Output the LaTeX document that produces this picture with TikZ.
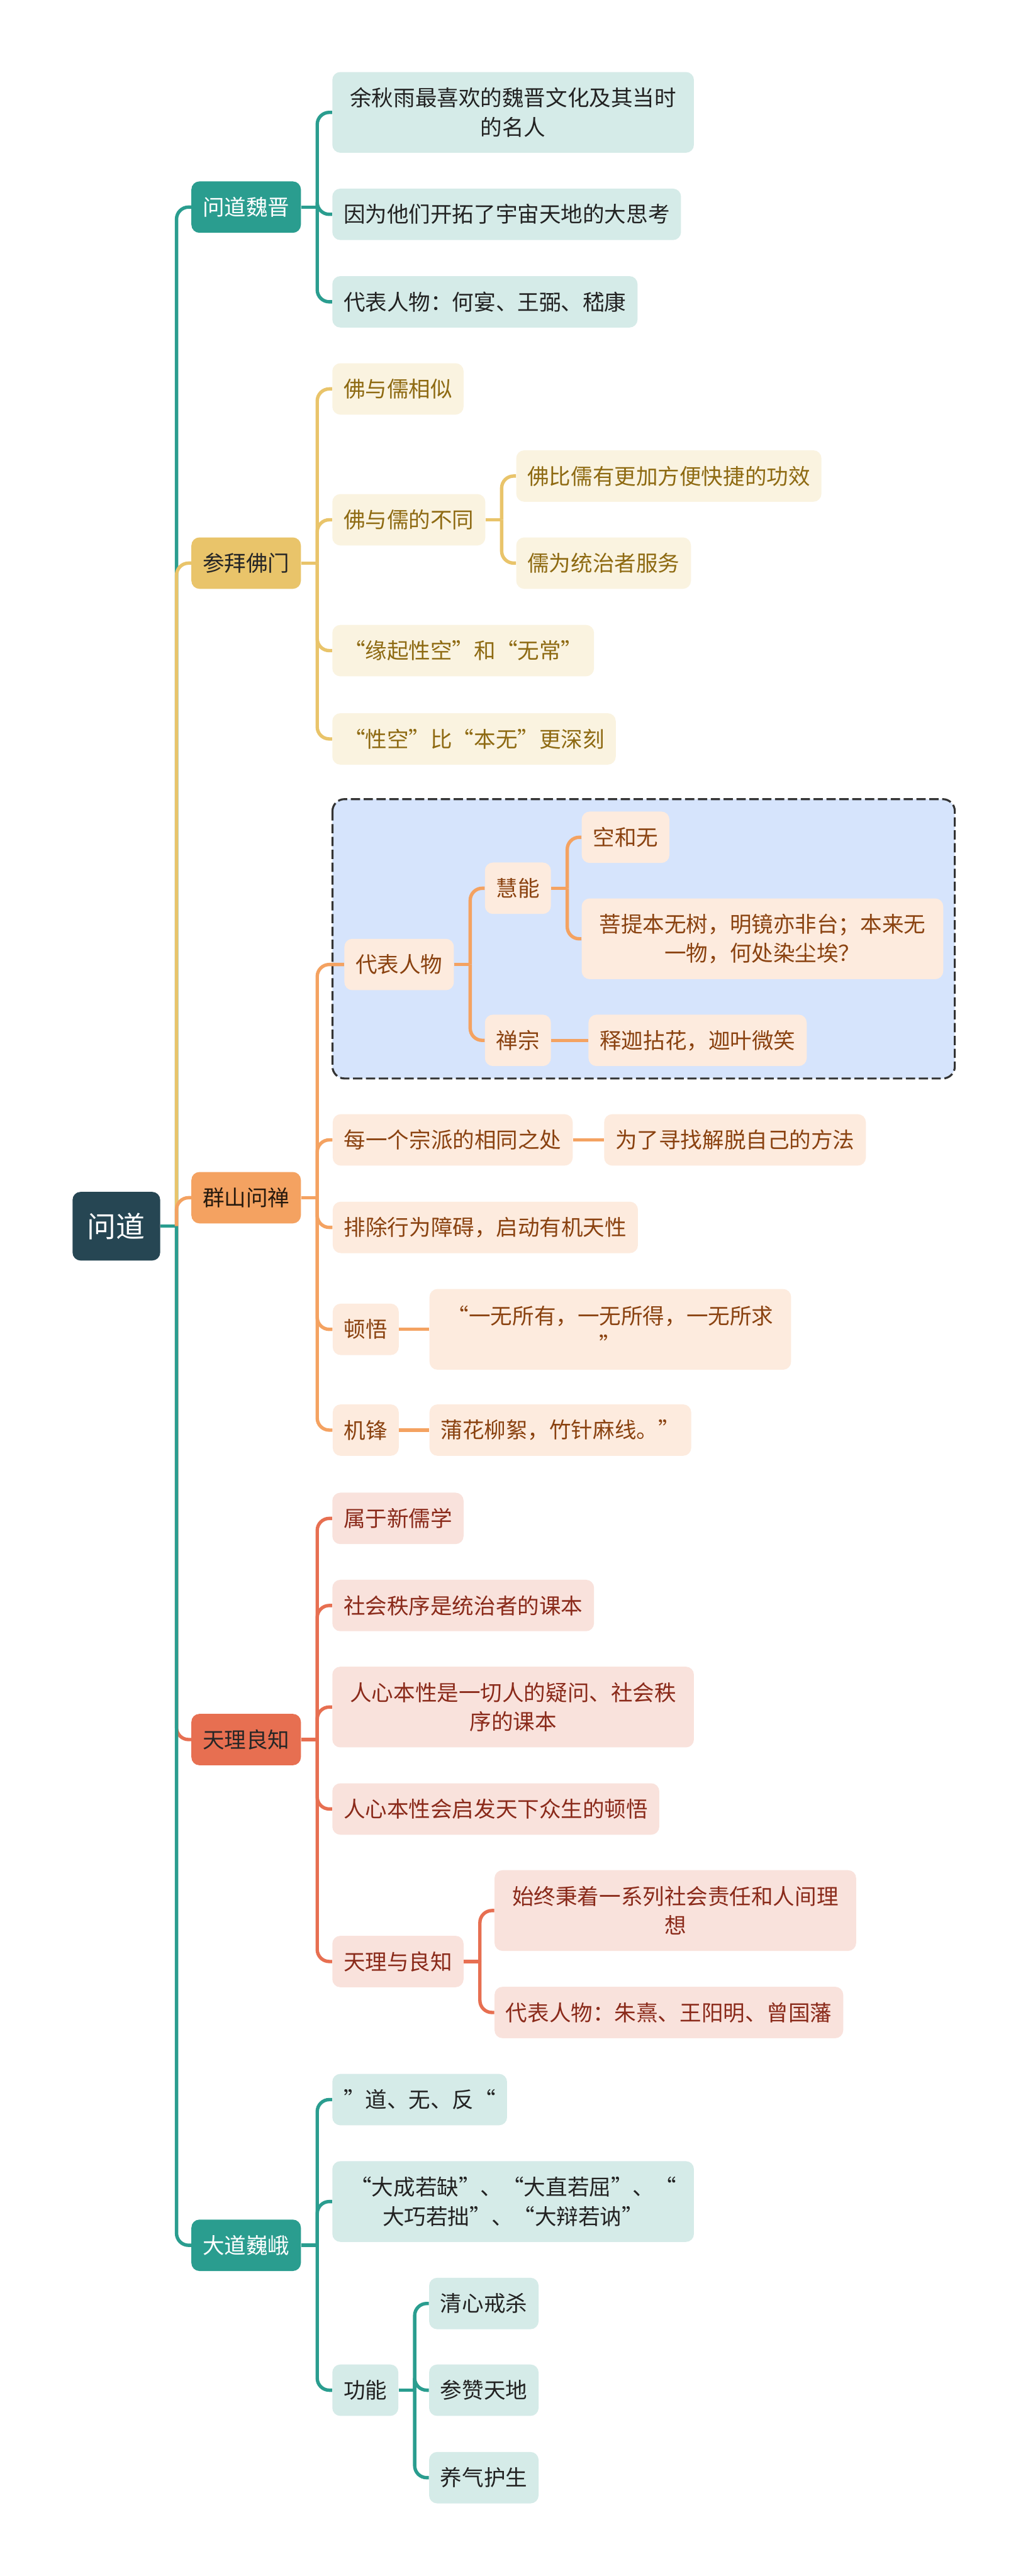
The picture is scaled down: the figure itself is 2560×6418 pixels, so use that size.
\documentclass[tikz,border=0pt]{standalone}
\usepackage{fontspec}
\setmainfont{Noto Sans CJK SC}
\usetikzlibrary{calc}
\definecolor{cteal}{HTML}{2A9D8F}
\definecolor{croot}{HTML}{264653}
\definecolor{cyel}{HTML}{E9C46A}
\definecolor{cora}{HTML}{F4A261}
\definecolor{cred}{HTML}{E76F51}
\definecolor{tealL}{HTML}{D5EBE8}
\definecolor{yelL}{HTML}{FAF3E0}
\definecolor{oraL}{HTML}{FDEBDE}
\definecolor{redL}{HTML}{F9E2DC}
\definecolor{frameL}{HTML}{D6E4FC}
\definecolor{yelT}{HTML}{8E6A12}
\definecolor{oraT}{HTML}{8A4210}
\definecolor{redT}{HTML}{8A2A1A}
\definecolor{darkT}{HTML}{222222}
\tikzset{
  box/.style={rounded corners=0.2cm,inner xsep=0.28cm,inner ysep=0pt,minimum height=1.28cm,
    align=center,anchor=west,font=\fontsize{15.4pt}{20.8pt}\selectfont},
  two/.style={minimum height=2.01cm,minimum width=9cm},
  rootbox/.style={box,fill=croot,text=white,minimum height=1.71cm,inner xsep=0.37cm,
    font=\fontsize{20.5pt}{24pt}\selectfont},
  tealkid/.style={box,fill=tealL,text=darkT},
  yelkid/.style={box,fill=yelL,text=yelT},
  orakid/.style={box,fill=oraL,text=oraT},
  redkid/.style={box,fill=redL,text=redT},
  link/.style={line width=2.4pt,rounded corners=0.3cm},
}
\begin{document}
\begin{tikzpicture}[x=0.01cm,y=-0.01cm]
\fill[white] (0,0) rectangle (2560,6418);
\useasboundingbox (0,0) rectangle (2560,6418);
\draw[line width=1.4pt,dash pattern=on 0.23cm off 0.09cm,draw=black!80,fill=frameL,rounded corners=0.3cm]
  (828,1991) rectangle (2378,2687);

\node[rootbox] (root) at (180,3055) {问道};
\node[box,fill=cteal,text=white] (q1) at (476,516) {问道魏晋};
\node[box,fill=cyel,text=black!85] (q2) at (476,1403) {参拜佛门};
\node[box,fill=cora,text=black!80!brown] (q3) at (476,2984) {群山问禅};
\node[box,fill=cred,text=black!85] (q4) at (476,4334) {天理良知};
\node[box,fill=cteal,text=white] (q5) at (476,5594) {大道巍峨};

\node[tealkid,two] (a1) at (827,280) {余秋雨最喜欢的魏晋文化及其当时\\的名人};
\node[tealkid] (a2) at (827,534) {因为他们开拓了宇宙天地的大思考};
\node[tealkid] (a3) at (827,752) {代表人物：何宴、王弼、嵇康};

\node[yelkid] (b1) at (827,969) {佛与儒相似};
\node[yelkid] (b2) at (827,1295) {佛与儒的不同};
\node[yelkid] (b21) at (1285,1186) {佛比儒有更加方便快捷的功效};
\node[yelkid] (b22) at (1285,1403) {儒为统治者服务};
\node[yelkid] (b3) at (827,1621) {“缘起性空”和“无常”};
\node[yelkid] (b4) at (827,1841) {“性空”比“本无”更深刻};

\node[orakid] (c1) at (857,2403) {代表人物};
\node[orakid] (c11) at (1207,2213) {慧能};
\node[orakid] (c111) at (1448,2086) {空和无};
\node[orakid,two] (c112) at (1448,2339) {菩提本无树，明镜亦非台；本来无\\一物，何处染尘埃？};
\node[orakid] (c12) at (1207,2592) {禅宗};
\node[orakid] (c121) at (1465,2592) {释迦拈花，迦叶微笑};
\node[orakid] (c2) at (828,2840) {每一个宗派的相同之处};
\node[orakid] (c21) at (1504,2840) {为了寻找解脱自己的方法};
\node[orakid] (c3) at (828,3058) {排除行为障碍，启动有机天性};
\node[orakid] (c4) at (828,3312) {顿悟};
\node[orakid,two] (c41) at (1069,3312) {“一无所有，一无所得，一无所求\\”};
\node[orakid] (c5) at (828,3563) {机锋};
\node[orakid] (c51) at (1069,3563) {蒲花柳絮，竹针麻线。”};

\node[redkid] (d1) at (827,3783) {属于新儒学};
\node[redkid] (d2) at (827,4000) {社会秩序是统治者的课本};
\node[redkid,two] (d3) at (827,4253) {人心本性是一切人的疑问、社会秩\\序的课本};
\node[redkid] (d4) at (827,4507) {人心本性会启发天下众生的顿悟};
\node[redkid] (d5) at (827,4887) {天理与良知};
\node[redkid,two] (d51) at (1231,4760) {始终秉着一系列社会责任和人间理\\想};
\node[redkid] (d52) at (1231,5014) {代表人物：朱熹、王阳明、曾国藩};

\node[tealkid] (e1) at (827,5231) {”道、无、反“};
\node[tealkid,two] (e2) at (827,5485) {“大成若缺”、“大直若屈”、“\\大巧若拙”、“大辩若讷”};
\node[tealkid] (e3) at (827,5955) {功能};
\node[tealkid] (e31) at (1068,5739) {清心戒杀};
\node[tealkid] (e32) at (1068,5955) {参赞天地};
\node[tealkid] (e33) at (1068,6173) {养气护生};

\coordinate (rb) at ($(root.east)+(40,0)$);
\draw[link,cteal] (root.east) -- (rb);
\foreach \q/\c in {q1/cteal,q2/cyel,q3/cora,q4/cred,q5/cteal}
  \draw[link,\c] (rb) |- (\q.west);

\foreach \p/\c/\kids in {q1/cteal/{a1,a2,a3},q2/cyel/{b1,b2,b3,b4},b2/cyel/{b21,b22},
    q3/cora/{c1,c2,c3,c4,c5},c1/cora/{c11,c12},c11/cora/{c111,c112},
    q4/cred/{d1,d2,d3,d4,d5},d5/cred/{d51,d52},q5/cteal/{e1,e2,e3},e3/cteal/{e31,e32,e33}}{
  \coordinate (\p b) at ($(\p.east)+(40,0)$);
  \draw[link,\c] (\p.east) -- (\p b);
  \foreach \k in \kids
    \draw[link,\c] (\p b) |- (\k.west);
}
\draw[link,cora] (c12.east) -- (c121.west);
\draw[link,cora] (c2.east) -- (c21.west);
\draw[link,cora] (c4.east) -- (c41.west);
\draw[link,cora] (c5.east) -- (c51.west);
\end{tikzpicture}
\end{document}
